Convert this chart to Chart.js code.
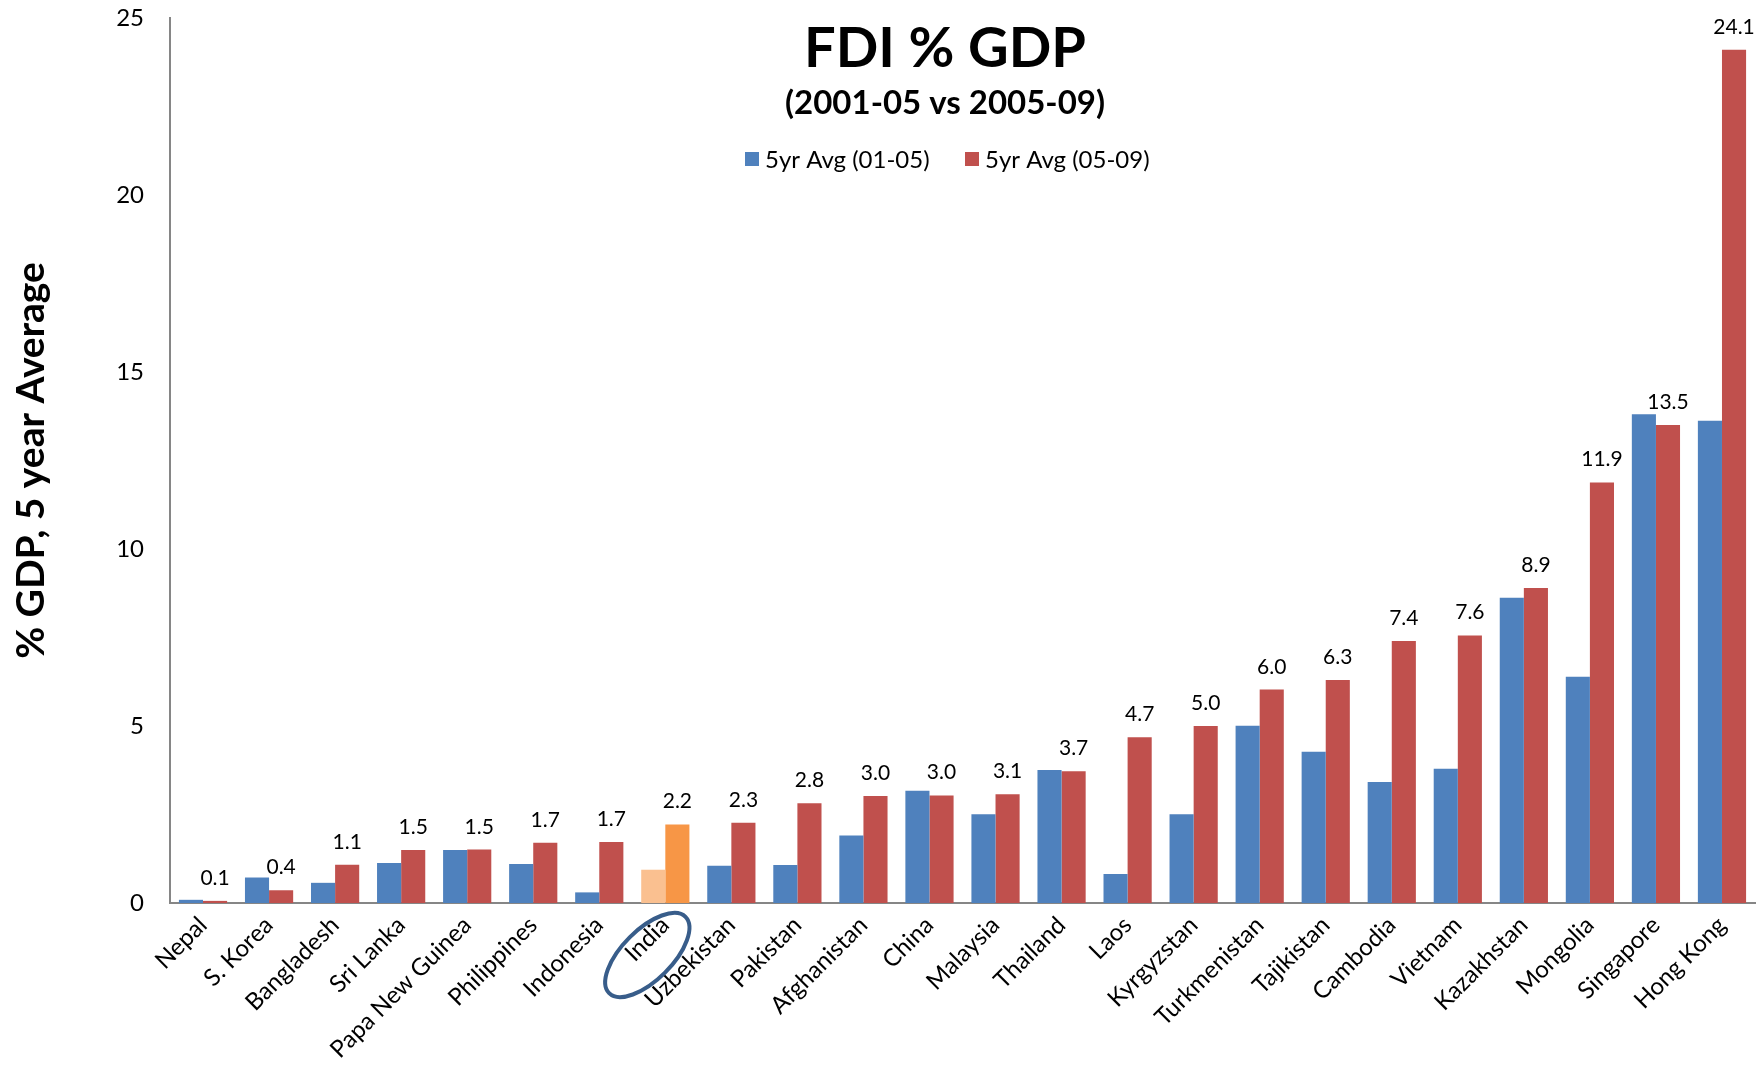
<!DOCTYPE html>
<html>
<head>
<meta charset="utf-8">
<title>FDI % GDP</title>
<script src="https://cdn.jsdelivr.net/npm/chart.js@4.4.1/dist/chart.umd.min.js"></script>
<style>
  html, body { margin: 0; padding: 0; background: #fff; }
  canvas { display: block; }
</style>
</head>
<body>
<canvas id="fdi_chart" width="1764" height="1077"></canvas>
<script>
// chart values
const countries = ["Nepal", "S. Korea", "Bangladesh", "Sri Lanka", "Papa New Guinea", "Philippines",
    "Indonesia", "India", "Uzbekistan", "Pakistan", "Afghanistan", "China", "Malaysia", "Thailand",
    "Laos", "Kyrgyzstan", "Turkmenistan", "Tajikistan", "Cambodia", "Vietnam", "Kazakhstan",
    "Mongolia", "Singapore", "Hong Kong"];
const avg0105 = [0.09, 0.72, 0.57, 1.13, 1.50, 1.10, 0.30, 0.94, 1.05, 1.07, 1.91, 3.17, 2.51, 3.76,
    0.82, 2.51, 5.01, 4.27, 3.42, 3.79, 8.62, 6.39, 13.81, 13.62];
const avg0509 = [0.06, 0.36, 1.08, 1.50, 1.51, 1.70, 1.72, 2.22, 2.27, 2.82, 3.02, 3.04, 3.07, 3.72,
    4.68, 5.00, 6.03, 6.30, 7.40, 7.56, 8.90, 11.88, 13.50, 24.10];
const seriesNames = ["5yr Avg (01-05)", "5yr Avg (05-09)"];
const yTicks = [0, 5, 10, 15, 20, 25];
const highlighted = "India";

const FONT = "Lato, 'Open Sans', 'Liberation Sans', sans-serif";
const blue = '#4F81BD';
const red = '#C0504D';
const lightOrange = '#FAC090';
const orange = '#F79646';

const blueColors = countries.map((c) => c === highlighted ? lightOrange : blue);
const redColors = countries.map((c) => c === highlighted ? orange : red);

// red series value labels + the ring around India
const labelsPlugin = {
    id: 'valueLabels',
    afterDatasetsDraw(chart) {
        const ctx = chart.ctx;
        const meta = chart.getDatasetMeta(1);
        ctx.save();
        ctx.font = '21px ' + FONT;
        ctx.fillStyle = '#000';
        ctx.textAlign = 'center';
        ctx.textBaseline = 'alphabetic';
        meta.data.forEach((bar, i) => {
            ctx.fillText(avg0509[i].toFixed(1), bar.x, bar.y - 16);
        });

        const xScale = chart.scales.x;
        const idx = countries.indexOf(highlighted);
        const cx = xScale.getPixelForValue(idx) - 18;
        const cy = chart.chartArea.bottom + 52;
        ctx.strokeStyle = '#385D8A';
        ctx.lineWidth = 4;
        ctx.beginPath();
        ctx.ellipse(cx, cy, 54, 25, -Math.PI / 4, 0, Math.PI * 2);
        ctx.stroke();
        ctx.restore();
    }
};

// title, subtitle and legend sit inside the plot area
const headerPlugin = {
    id: 'header',
    afterDraw(chart) {
        const ctx = chart.ctx;
        const cx = 945;
        ctx.save();
        ctx.fillStyle = '#000';
        ctx.textAlign = 'center';
        ctx.textBaseline = 'alphabetic';
        ctx.font = 'bold 56px ' + FONT;
        ctx.fillText('FDI % GDP', cx, 67);
        ctx.font = 'bold 33px ' + FONT;
        ctx.fillText('(2001-05 vs 2005-09)', cx, 114);

        ctx.font = '24px ' + FONT;
        ctx.textAlign = 'left';
        const items = [[blue, seriesNames[0], 745], [red, seriesNames[1], 965]];
        items.forEach(([col, txt, x]) => {
            ctx.fillStyle = col;
            ctx.fillRect(x, 152, 14, 14);
            ctx.fillStyle = '#000';
            ctx.fillText(txt, x + 20, 168);
        });
        ctx.restore();
    }
};

const ctx = document.getElementById('fdi_chart').getContext('2d');

const fdiChart = new Chart(ctx, {
    type: 'bar',
    data: {
        labels: countries,
        datasets: [{
            label: seriesNames[0],
            data: avg0105,
            backgroundColor: blueColors,
            categoryPercentage: 0.73,
            barPercentage: 1.0
        }, {
            label: seriesNames[1],
            data: avg0509,
            backgroundColor: redColors,
            categoryPercentage: 0.73,
            barPercentage: 1.0
        }]
    },
    options: {
        responsive: false,
        animation: false,
        layout: { padding: { top: 18, right: 9, left: 0, bottom: 0 } },
        plugins: {
            legend: { display: false },
            title: { display: false },
            tooltip: { enabled: false }
        },
        scales: {
            x: {
                grid: { display: false, drawTicks: false },
                border: { display: true, color: '#868686', width: 2 },
                ticks: {
                    color: '#000',
                    font: { family: FONT, size: 24 },
                    minRotation: 45,
                    maxRotation: 45,
                    padding: 8,
                    autoSkip: false
                },
                afterFit(scale) { scale.height = 174; }
            },
            y: {
                min: 0,
                max: 25,
                grid: { display: false, drawTicks: false },
                border: { display: true, color: '#868686', width: 2 },
                afterBuildTicks(scale) {
                    scale.ticks = yTicks.map((v) => ({ value: v }));
                },
                ticks: {
                    color: '#000',
                    font: { family: FONT, size: 24 },
                    padding: 26
                },
                title: {
                    display: true,
                    text: '% GDP, 5 year Average',
                    color: '#000',
                    font: { family: FONT, size: 39, weight: 'bold' },
                    padding: { top: 8, bottom: 0 }
                },
                afterFit(scale) {
                    scale.width = 170;
                    scale.paddingTop = 0;
                    scale.paddingBottom = 0;
                }
            }
        }
    },
    plugins: [labelsPlugin, headerPlugin]
});
</script>
</body>
</html>
